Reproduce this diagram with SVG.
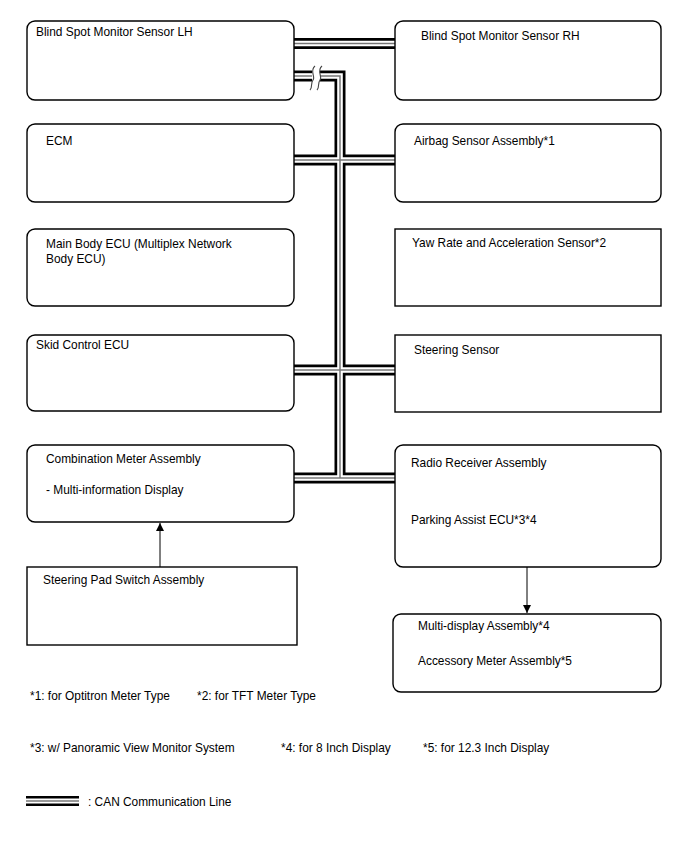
<svg xmlns="http://www.w3.org/2000/svg" width="688" height="852" viewBox="0 0 688 852">
<defs>
<style>
.box{fill:#fff;stroke:#000;stroke-width:1.4}
.t{font-family:"Liberation Sans",Arial,sans-serif;font-size:11.9px;fill:#000}
.cb{fill:none;stroke:#000;stroke-width:11;stroke-linejoin:miter}
.cw{fill:none;stroke:#fff;stroke-width:5.6;stroke-linejoin:miter}
.cg{fill:none;stroke:#777;stroke-width:1.5;stroke-linejoin:miter}
.arr{fill:none;stroke:#000;stroke-width:1}
.brk{fill:none;stroke:#444;stroke-width:1.1}
</style>
<marker id="ah" markerWidth="8" markerHeight="10" refX="8" refY="4" orient="auto" markerUnits="userSpaceOnUse">
<path d="M0,0 L8,4 L0,8 z" fill="#000"/>
</marker>
</defs>
<rect width="688" height="852" fill="#fff"/>

<g id="connectors">
<g class="cb">
<path d="M294,43.5 H395"/>
<path d="M294,76 H312"/>
<path d="M320,76 H340 V478"/>
<path d="M294,160 H395"/>
<path d="M294,370 H395"/>
<path d="M294,478 H395"/>
</g>
<g class="cw">
<path d="M294,43.5 H395"/>
<path d="M294,76 H312"/>
<path d="M320,76 H340 V478"/>
<path d="M294,160 H395"/>
<path d="M294,370 H395"/>
<path d="M294,478 H395"/>
</g>
<g class="cg">
<path d="M294,43.5 H395"/>
<path d="M294,76 H312"/>
<path d="M320,76 H340 V478"/>
<path d="M294,160 H395"/>
<path d="M294,370 H395"/>
<path d="M294,478 H395"/>
</g>
<path class="brk" d="M315,66 C309,71 316,77 313,80 C310,84 313,87 310,90"/>
<path class="brk" d="M322,66 C316,71 323,77 320,80 C317,84 320,87 317,90"/>
<path class="arr" d="M160,567 V523" marker-end="url(#ah)"/>
<path class="arr" d="M527,567 V613" marker-end="url(#ah)"/>
</g>

<g id="bsm-lh"><rect class="box" x="27" y="21" width="267" height="79" rx="8"/><text class="t" x="36" y="36">Blind Spot Monitor Sensor LH</text></g>
<g id="bsm-rh"><rect class="box" x="395" y="21" width="266" height="79" rx="8"/><text class="t" x="421" y="40">Blind Spot Monitor Sensor RH</text></g>
<g id="ecm"><rect class="box" x="27" y="124" width="267" height="78" rx="8"/><text class="t" x="46" y="145">ECM</text></g>
<g id="airbag"><rect class="box" x="395" y="124" width="266" height="78" rx="8"/><text class="t" x="414" y="145">Airbag Sensor Assembly*1</text></g>
<g id="main-body"><rect class="box" x="27" y="229" width="267" height="77" rx="8"/><text class="t" x="46" y="248">Main Body ECU (Multiplex Network</text><text class="t" x="46" y="263">Body ECU)</text></g>
<g id="yaw-rate"><rect class="box" x="395" y="229" width="266" height="77"/><text class="t" x="412" y="247">Yaw Rate and Acceleration Sensor*2</text></g>
<g id="skid"><rect class="box" x="27" y="335" width="267" height="76" rx="8"/><text class="t" x="36" y="349">Skid Control ECU</text></g>
<g id="steering-sensor"><rect class="box" x="395" y="335" width="266" height="77"/><text class="t" x="414" y="354">Steering Sensor</text></g>
<g id="combination-meter"><rect class="box" x="27" y="445" width="267" height="77" rx="8"/><text class="t" x="46" y="463">Combination Meter Assembly</text><text class="t" x="46" y="494"> - Multi-information Display</text></g>
<g id="radio-receiver"><rect class="box" x="395" y="445" width="266" height="122" rx="8"/><text class="t" x="411" y="467">Radio Receiver Assembly</text><text class="t" x="411" y="524">Parking Assist ECU*3*4</text></g>
<g id="steering-pad"><rect class="box" x="27" y="567" width="270" height="78"/><text class="t" x="43" y="584">Steering Pad Switch Assembly</text></g>
<g id="multi-display"><rect class="box" x="393" y="614" width="268" height="78" rx="8"/><text class="t" x="418" y="630">Multi-display Assembly*4</text><text class="t" x="418" y="665">Accessory Meter Assembly*5</text></g>

<g id="notes">
<text class="t" x="30" y="700">*1: for Optitron Meter Type</text>
<text class="t" x="197" y="700">*2: for TFT Meter Type</text>
<text class="t" x="30" y="752">*3: w/ Panoramic View Monitor System</text>
<text class="t" x="281" y="752">*4: for 8 Inch Display</text>
<text class="t" x="423" y="752">*5: for 12.3 Inch Display</text>
</g>
<g id="legend">
<path d="M26,801 H79" stroke="#000" stroke-width="10"/>
<path d="M26,801 H79" stroke="#fff" stroke-width="5"/>
<path d="M26,801 H79" stroke="#777" stroke-width="1.5"/>
<text class="t" x="88" y="806">: CAN Communication Line</text>
</g>
</svg>
